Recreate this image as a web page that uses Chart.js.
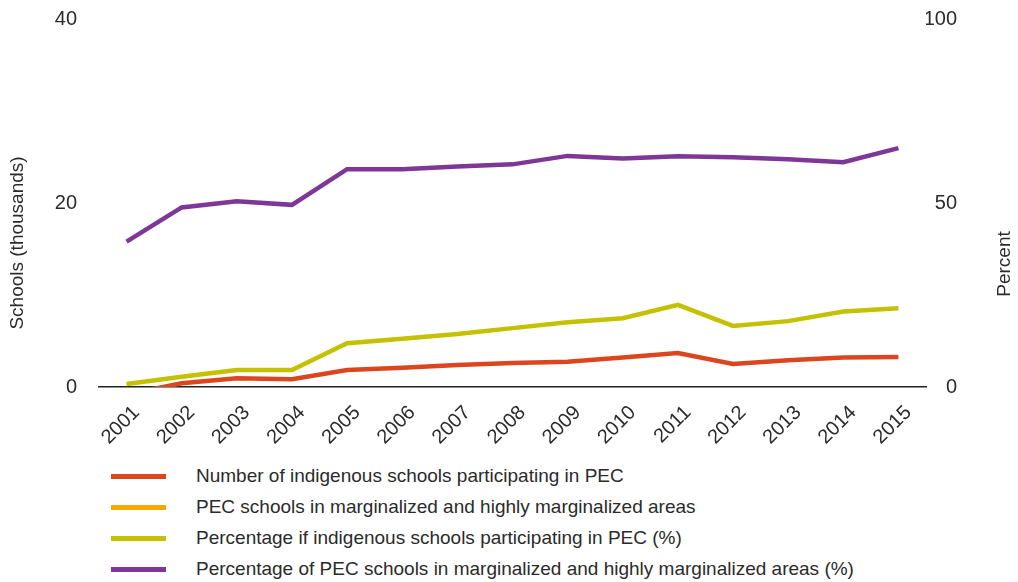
<!DOCTYPE html>
<html>
<head>
<meta charset="utf-8">
<script src="https://cdn.jsdelivr.net/npm/chart.js@4"></script>
<style>
  body { margin: 0; background: #fff; font-family: "Liberation Sans", Arial, sans-serif; }
  #wrap { position: relative; width: 1018px; height: 582px; }
  #legend { position: absolute; left: 0; top: 462px; color: #2b2b2b; font-size: 19px; }
  .item { position: absolute; left: 0; white-space: nowrap; }
  .swatch { position: absolute; left: 111px; width: 55px; height: 5px; }
  .label { position: absolute; left: 196px; line-height: 22px; }
</style>
</head>
<body>
<div id="wrap">
  <canvas id="chart" width="1018" height="460"></canvas>
  <div id="legend"></div>
</div>
<script>
const years = ["2001", "2002", "2003", "2004", "2005", "2006", "2007", "2008",
  "2009", "2010", "2011", "2012", "2013", "2014", "2015"];

// thousands of schools (left axis); first value sits under the axis, line enters from below
const indigenousSchools = [-0.8, 0.4, 0.95, 0.85, 1.85, 2.1, 2.4, 2.6, 2.75, 3.2, 3.7, 2.5, 2.9, 3.2, 3.25];
// not drawn in the picture, only in the legend
const marginalizedSchools = [];
// percent (right axis)
const indigenousPct = [0.8, 2.8, 4.6, 4.6, 11.9, 13.1, 14.4, 16.0, 17.6, 18.7, 22.3, 16.6, 17.9, 20.5, 21.4];
const marginalizedPct = [39.5, 48.8, 50.5, 49.5, 59.2, 59.2, 59.9, 60.5, 62.8, 62.1, 62.7, 62.4, 61.9, 61.1, 64.9];

const leftTicks = [0, 20, 40];
const rightTicks = [0, 50, 100];

const textColor = "#2b2b2b";
const fam = "'Liberation Sans', Arial, sans-serif";

const axisTitles = {
  id: "axisTitles",
  afterDraw(chart) {
    const ctx = chart.ctx;
    const draw = (text, x, y) => {
      ctx.save();
      ctx.fillStyle = textColor;
      ctx.font = "19px " + fam;
      ctx.textAlign = "center";
      ctx.textBaseline = "middle";
      ctx.translate(x, y);
      ctx.rotate(-Math.PI / 2);
      ctx.fillText(text, 0, 0);
      ctx.restore();
    };
    draw("Schools (thousands)", 18, 243);
    draw("Percent", 1005, 264);
  }
};

const line = (label, data, color, axis) => ({
  label: label,
  data: data,
  borderColor: color,
  backgroundColor: color,
  borderWidth: 4.5,
  pointRadius: 0,
  tension: 0,
  yAxisID: axis
});

// fixed axis box, no extra room for the end labels
const fixY = (w) => (s) => {
  s.width = w;
  s.paddingTop = 0;
  s.paddingBottom = 0;
};

const red = line("Number of indigenous schools participating in PEC", indigenousSchools, "#db461e", "y");
red.clip = 0;

const chart = new Chart(document.getElementById("chart"), {
  type: "line",
  data: {
    labels: years,
    datasets: [
      red,
      line("PEC schools in marginalized and highly marginalized areas", marginalizedSchools, "#f7a800", "y"),
      line("Percentage if indigenous schools participating in PEC (%)", indigenousPct, "#c4c100", "y1"),
      line("Percentage of PEC schools in marginalized and highly marginalized areas (%)", marginalizedPct, "#7e3796", "y1")
    ]
  },
  options: {
    responsive: false,
    animation: false,
    layout: { padding: { top: 19, left: 0, right: 61, bottom: 0 } },
    plugins: { legend: { display: false }, tooltip: { enabled: false } },
    scales: {
      x: {
        offset: true,
        grid: { display: false, drawTicks: false },
        border: { display: true, color: "#222", width: 1.5 },
        ticks: { color: textColor, font: { family: fam, size: 20 }, minRotation: 45, maxRotation: 45, padding: 14, labelOffset: 10 },
        afterFit: (s) => { s.height = 73; }
      },
      y: {
        position: "left",
        min: 0, max: 40,
        grid: { display: false, drawTicks: false },
        border: { display: false },
        afterBuildTicks: (s) => { s.ticks = leftTicks.map((v) => ({ value: v })); },
        ticks: { color: textColor, font: { family: fam, size: 20 }, padding: 22 },
        afterFit: fixY(99)
      },
      y1: {
        position: "right",
        min: 0, max: 100,
        grid: { display: false, drawTicks: false },
        border: { display: false },
        afterBuildTicks: (s) => { s.ticks = rightTicks.map((v) => ({ value: v })); },
        ticks: { color: textColor, font: { family: fam, size: 20 }, padding: 0, crossAlign: "far" },
        afterFit: fixY(31)
      }
    }
  },
  plugins: [axisTitles]
});

// legend, one row per dataset
const legend = document.getElementById("legend");
chart.data.datasets.forEach((ds, i) => {
  const top = 14 + i * 31;
  legend.innerHTML += '<div class="item" style="top:' + top + 'px">' +
    '<div class="swatch" style="top:-2px;background:' + ds.borderColor + '"></div>' +
    '<div class="label" style="top:-11px">' + ds.label + "</div></div>";
});
</script>
</body>
</html>
